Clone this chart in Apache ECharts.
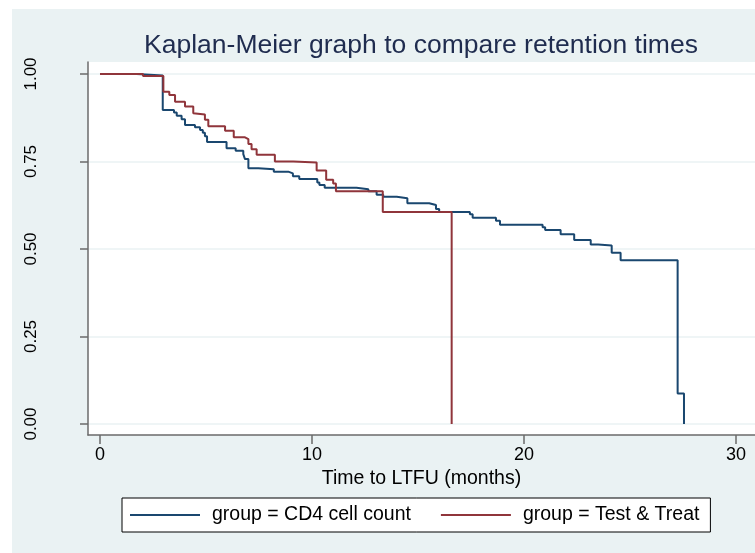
<!DOCTYPE html>
<html>
<head>
<meta charset="utf-8">
<title>Kaplan-Meier graph</title>
<script src="https://cdn.jsdelivr.net/npm/echarts@6/dist/echarts.min.js"></script>
<style>
  html, body { margin: 0; padding: 0; background: #fff; }
  #chart { width: 755px; height: 553px; }
</style>
</head>
<body>
<div id="chart"></div>
<script>
  // step times (months) and survival after each step
  const cd4Times = [0, 1.73, 2.96, 3.49, 3.62, 3.85, 4.01, 4.48, 4.72, 4.85, 4.95, 5.05, 5.97, 6.4, 6.76, 6.84, 7.0, 7.47, 8.2, 8.88,
    9.1, 9.4, 10.25, 10.35, 10.6, 12.1, 12.66, 13.05, 13.36, 14.0, 14.5, 15.53, 15.85, 16.0, 17.45, 17.58, 18.68, 18.87, 20.88, 21.0,
    21.73, 22.37, 23.15, 23.5, 24.14, 24.56, 27.25, 27.55];
  const cd4Surv = [1.0, 0.996, 0.897, 0.89, 0.881, 0.871, 0.854, 0.848, 0.840, 0.832, 0.822, 0.806, 0.788, 0.781, 0.771, 0.757, 0.731, 0.728, 0.721, 0.716,
    0.708, 0.70, 0.69, 0.683, 0.675, 0.671, 0.665, 0.655, 0.649, 0.645, 0.631, 0.626, 0.614, 0.606, 0.599, 0.589, 0.581, 0.569, 0.562, 0.554,
    0.542, 0.526, 0.513, 0.51, 0.489, 0.468, 0.087, 0];
  const ttTimes = [0, 2.03, 2.99, 3.27, 3.54, 4.01, 4.40, 4.48, 4.95, 5.11, 5.90, 6.31, 6.84, 7.0, 7.15, 7.39, 8.25, 9.12, 10.22, 10.67,
    11.0, 11.13, 13.34, 16.59];
  const ttSurv = [1.0, 0.994, 0.949, 0.94, 0.921, 0.907, 0.888, 0.884, 0.869, 0.851, 0.838, 0.819, 0.814, 0.80, 0.785, 0.769, 0.75, 0.747, 0.724, 0.698,
    0.687, 0.665, 0.606, 0];
  const xTicks = [0, 10, 20, 30];
  const yTicks = [0, 0.25, 0.5, 0.75, 1];
  const groupNames = ['group = CD4 cell count', 'group = Test & Treat'];

  const font = 'Liberation Sans, Arial, sans-serif';
  const bg = '#eaf2f3';

  function pairs(times, surv) {
    return times.map((t, i) => [t, surv[i]]);
  }

  const chart = echarts.init(document.getElementById('chart'), null, {renderer: 'canvas'});

  chart.setOption({
    backgroundColor: bg,
    animation: false,
    textStyle: {fontFamily: font},
    graphic: [
      {type: 'rect', shape: {x: 0, y: 0, width: 755, height: 9}, style: {fill: '#fff'}, silent: true},
      {type: 'rect', shape: {x: 0, y: 0, width: 12, height: 553}, style: {fill: '#fff'}, silent: true}
    ],
    title: {
      text: 'Kaplan-Meier graph to compare retention times',
      left: 421,
      top: 32,
      padding: 0,
      textAlign: 'center',
      textStyle: {
        color: '#1f2c4f',
        fontFamily: font,
        fontSize: 26.5,
        fontWeight: 'normal'
      }
    },
    grid: {
      left: 88,
      top: 62,
      right: 0,
      bottom: 118,
      show: true,
      backgroundColor: '#fff',
      borderWidth: 0
    },
    xAxis: {
      type: 'value',
      min: -0.566,
      max: 30.9,
      name: 'Time to LTFU (months)',
      nameLocation: 'middle',
      nameGap: 26,
      nameTextStyle: {color: '#000', fontSize: 19.5, fontFamily: font},
      axisLine: {show: true, onZero: false, lineStyle: {color: '#6b6b6b', width: 1.5}},
      axisTick: {show: true, length: 9, customValues: xTicks, lineStyle: {color: '#6b6b6b', width: 1.5}},
      axisLabel: {color: '#000', fontSize: 18, margin: 11, customValues: xTicks},
      splitLine: {show: false}
    },
    yAxis: {
      type: 'value',
      min: -0.0314,
      max: 1.0343,
      axisLine: {show: true, onZero: false, lineStyle: {color: '#6b6b6b', width: 1.5}},
      axisTick: {show: true, length: 8, customValues: yTicks, lineStyle: {color: '#6b6b6b', width: 1.5}},
      axisLabel: {
        color: '#000',
        fontSize: 17,
        rotate: 90,
        margin: 48,
        customValues: yTicks,
        formatter: v => v.toFixed(2)
      },
      splitLine: {show: true, lineStyle: {color: bg, width: 1.5}}
    },
    legend: {
      left: 122,
      top: 498,
      padding: [7, 11, 7, 8],
      backgroundColor: '#fff',
      borderColor: '#000',
      borderWidth: 1,
      borderRadius: 0,
      icon: 'rect',
      itemWidth: 70,
      itemHeight: 2,
      itemGap: 30,
      textStyle: {color: '#000', fontSize: 19.5, fontFamily: font, padding: [0, 0, 0, 7]},
      data: groupNames
    },
    series: [
      {
        name: groupNames[0],
        type: 'line',
        step: 'end',
        symbol: 'none',
        lineStyle: {color: '#1a476f', width: 2},
        itemStyle: {color: '#1a476f'},
        data: pairs(cd4Times, cd4Surv)
      },
      {
        name: groupNames[1],
        type: 'line',
        step: 'end',
        symbol: 'none',
        lineStyle: {color: '#90353b', width: 2},
        itemStyle: {color: '#90353b'},
        data: pairs(ttTimes, ttSurv)
      }
    ]
  });
</script>
</body>
</html>
